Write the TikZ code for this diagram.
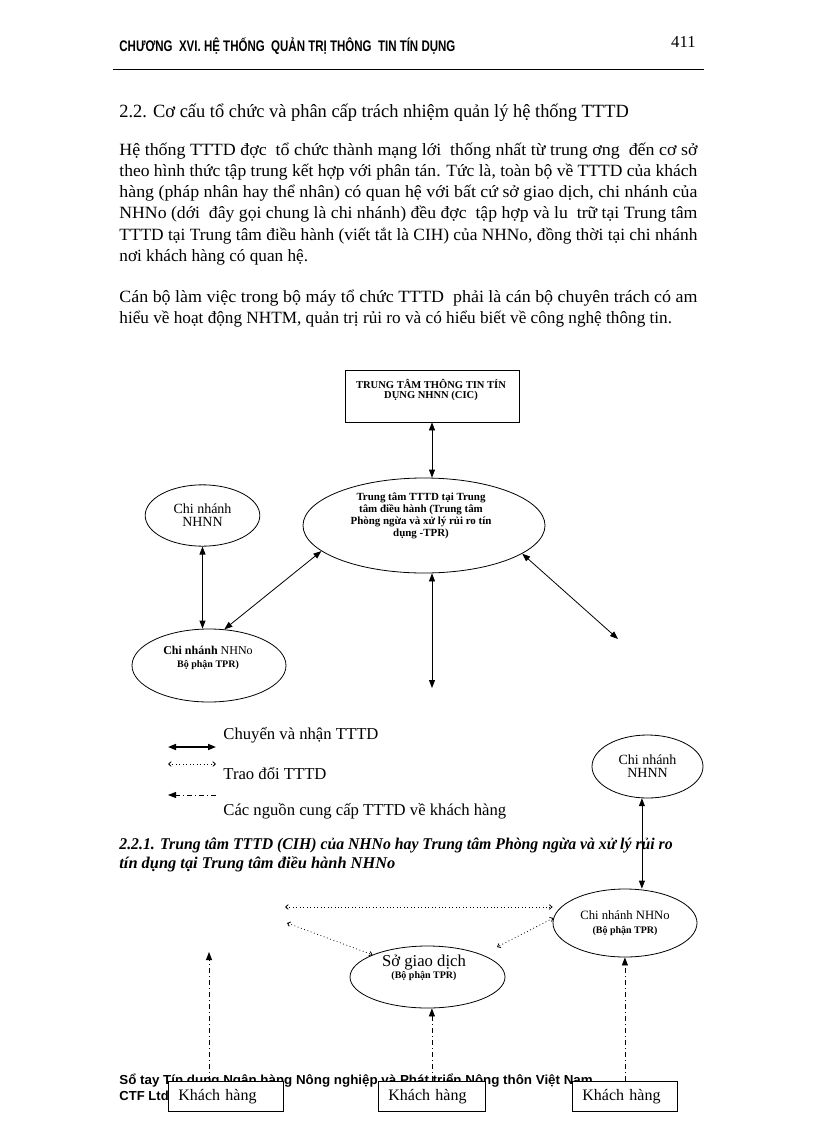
\documentclass[tikz,border=0pt]{standalone}
\usepackage{graphicx}
\usepackage{fontspec}
\setmainfont{Liberation Serif}
\newfontfamily\headsans{Liberation Sans}
\usetikzlibrary{arrows.meta,shapes.geometric}

\begin{document}
\begin{tikzpicture}[x=.75pt,y=-.75pt,line width=.6pt,
  body/.style={anchor=base west,inner sep=0pt,font=\fontsize{12.9pt}{15pt}\selectfont},
  oval/.style={draw,ellipse,inner sep=0pt,align=center},
  tag/.style={inner sep=0pt,align=center},
  kbox/.style={draw,fill=white,anchor=north west,inner xsep=7.5pt,inner ysep=0pt,
    minimum height=22.5pt,text width=#1,align=left,font=\fontsize{12pt}{14pt}\selectfont},
  twoway/.style={{Triangle[length=6pt,width=4.5pt]}-{Triangle[length=6pt,width=4.5pt]}},
  xchg/.style={dotted,{Straight Barb[length=2pt,width=3.5pt]}-{Straight Barb[length=2pt,width=3.5pt]}},
  feedline/.style={dash pattern=on 4pt off 2pt on 1pt off 2pt,-{Triangle[length=6pt,width=4.5pt]}}]
\fill[white] (0,0) rectangle (816,1123);
\useasboundingbox (0,0) rectangle (816,1123);

% running head
\node[anchor=base west,inner sep=0pt,font=\headsans\bfseries\fontsize{11.5pt}{13pt}\selectfont] (chap) at (119,52)
  {\resizebox{252pt}{\height}{CHƯƠNG~~XVI. HỆ THỐNG~~QUẢN TRỊ THÔNG~~TIN TÍN DỤNG}};
\node[anchor=base east,inner sep=0pt,font=\fontsize{12.5pt}{14pt}\selectfont] (pgno) at (696,48) {411};
\draw (113,69) -- (704,69);

% 2.2 and text
\node[body,font=\fontsize{14pt}{16pt}\selectfont] (sec) at (119,118)
  {\resizebox{382pt}{\height}{2.2. Cơ cấu tổ chức và phân cấp trách nhiệm quản lý hệ thống TTTD}};
\node[body] (l1) at (119,156) {\resizebox{433.5pt}{\height}{Hệ thống TTTD đợc~~tổ chức thành mạng lới~~thống nhất từ trung ơng~~đến cơ sở}};
\node[body] (l2) at (119,177) {\resizebox{433.5pt}{\height}{theo hình thức tập trung kết hợp với phân tán. Tức là, toàn bộ về TTTD của khách}};
\node[body] (l3) at (119,198) {\resizebox{433.5pt}{\height}{hàng (pháp nhân hay thể nhân) có quan hệ với bất cứ sở giao dịch, chi nhánh của}};
\node[body] (l4) at (119,219) {\resizebox{433.5pt}{\height}{NHNo (dới~~đây gọi chung là chi nhánh) đều đợc~~tập hợp và lu~~trữ tại Trung tâm}};
\node[body] (l5) at (119,240) {\resizebox{433.5pt}{\height}{TTTD tại Trung tâm điều hành (viết tắt là CIH) của NHNo, đồng thời tại chi nhánh}};
\node[body] (l6) at (119,261) {nơi khách hàng có quan hệ.};
\node[body] (l7) at (119,302) {\resizebox{433.5pt}{\height}{Cán bộ làm việc trong bộ máy tổ chức TTTD~~phải là cán bộ chuyên trách có am}};
\node[body] (l8) at (119,323) {hiểu về hoạt động NHTM, quản trị rủi ro và có hiểu biết về công nghệ thông tin.};

% upper chart
\node[draw,minimum width=130.5pt,minimum height=39pt,inner sep=0pt] (cic) at (432,396) {};
\node[tag,font=\bfseries\fontsize{7.9pt}{8pt}\selectfont] (cic-t) at (431,390) {TRUNG TÂM THÔNG TIN TÍN\\DỤNG NHNN (CIC)};
\node[oval,minimum width=181.5pt,minimum height=71.25pt] (tpr) at (424,525.5) {};
\node[tag,font=\bfseries\fontsize{8.2pt}{9pt}\selectfont] (tpr-t) at (421,516)
  {Trung tâm TTTD tại Trung\\tâm điều hành (Trung tâm\\Phòng ngừa và xử lý rủi ro tín\\dụng -TPR)};
\node[oval,minimum width=86pt,minimum height=46pt,font=\fontsize{10.5pt}{9.75pt}\selectfont] (nhnn-a) at (202.5,515.5) {Chi nhánh\\NHNN};
\node[oval,minimum width=115.5pt,minimum height=54.75pt] (cn-a) at (209,665.5) {};
\node[tag,font=\fontsize{9pt}{10pt}\selectfont] (cn-a-t) at (208,658)
  {\textbf{Chi nhánh} NHNo\\{\bfseries\fontsize{7.5pt}{10pt}\selectfont Bộ phận TPR)}};
\coordinate (tpr-dn) at (432,688);
\coordinate (tpr-se) at (618,639);
\draw[twoway] (cic.south) -- (cic.south|-tpr.north);
\draw[twoway] (nhnn-a.south) -- (nhnn-a.south|-cn-a.north);
\draw[twoway] (tpr.194) -- (cn-a.67);
\draw[twoway] (tpr.south-|tpr-dn) -- (tpr-dn);
\draw[twoway] (tpr.-16) -- (tpr-se);

% legend
\coordinate (k1) at (168,747); \coordinate (k1e) at (216,747);
\coordinate (k2) at (168,764); \coordinate (k2e) at (216,764);
\coordinate (k3) at (168,795); \coordinate (k3e) at (216,795);
\draw[twoway,line width=1.2pt] (k1) -- (k1e);
\draw[xchg] (k2) -- (k2e);
\draw[feedline] (k3e) -- (k3);
\node[body,font=\fontsize{12.5pt}{14pt}\selectfont] (k1-t) at (223,739) {Chuyển và nhận TTTD};
\node[body,font=\fontsize{12.5pt}{14pt}\selectfont] (k2-t) at (223,779) {Trao đổi TTTD};
\node[body,font=\fontsize{12.5pt}{14pt}\selectfont] (k3-t) at (223,815) {Các nguồn cung cấp TTTD về khách hàng};

% 2.2.1
\node[body,font=\bfseries\itshape\fontsize{12.3pt}{14pt}\selectfont] (sub) at (119,849)
  {\resizebox{415pt}{\height}{2.2.1. Trung tâm TTTD (CIH) của NHNo hay Trung tâm Phòng ngừa và xử lý rủi ro}};
\node[body,font=\bfseries\itshape\fontsize{12.3pt}{14pt}\selectfont] (sub2) at (119,868) {tín dụng tại Trung tâm điều hành NHNo};

% lower chart
\node[oval,minimum width=83.25pt,minimum height=47.25pt,font=\fontsize{10.5pt}{9.75pt}\selectfont] (nhnn-b) at (647.5,766.5) {Chi nhánh\\NHNN};
\node[oval,minimum width=108pt,minimum height=51pt,font=\fontsize{9.5pt}{10.5pt}\selectfont] (cn-b) at (625,923)
  {Chi nhánh NHNo\\{\bfseries\fontsize{7.5pt}{10.5pt}\selectfont(Bộ phận TPR)}};
\node[oval,minimum width=116.25pt,minimum height=46.5pt] (sgd) at (427.5,977) {};
\node[tag,font=\fontsize{12.5pt}{9pt}\selectfont] (sgd-t) at (424,968)
  {Sở giao dịch\\{\bfseries\fontsize{7.5pt}{9pt}\selectfont(Bộ phận TPR)}};
\coordinate (x1) at (285,907);
\coordinate (x2) at (287,923);
\coordinate (sgd-ne) at (497,947);
\draw[twoway] (nhnn-b.260) -- (nhnn-b.260|-cn-b.north);
\draw[xchg] (x1) -- (x1-|cn-b.west);
\draw[xchg] (x2) -- (sgd.158);
\draw[xchg] (cn-b.176) -- (sgd-ne);

% foot line and customers
\node[anchor=base west,inner sep=0pt,font=\headsans\bfseries\fontsize{9.8pt}{11pt}\selectfont] (foot) at (119,1084)
  {\resizebox{355pt}{\height}{Sổ tay Tín dụng Ngân hàng Nông nghiệp và Phát triển Nông thôn Việt Nam}};
\node[anchor=base west,inner sep=0pt,font=\headsans\bfseries\fontsize{9.8pt}{11pt}\selectfont] (foot2) at (119,1100) {CTF Ltd};
\node[kbox=71.25pt] (kh-a) at (168,1081) {Khách hàng};
\node[kbox=65.25pt] (kh-b) at (378,1081) {Khách hàng};
\node[kbox=63.75pt] (kh-c) at (572,1081) {Khách hàng};
\coordinate (up-a) at (209,952);
\draw[feedline] (kh-a.north-|up-a) -- (up-a);
\draw[feedline] (kh-b.north) -- (kh-b.north|-sgd.south);
\draw[feedline] (kh-c.north) -- (kh-c.north|-cn-b.south);
\end{tikzpicture}
\end{document}
